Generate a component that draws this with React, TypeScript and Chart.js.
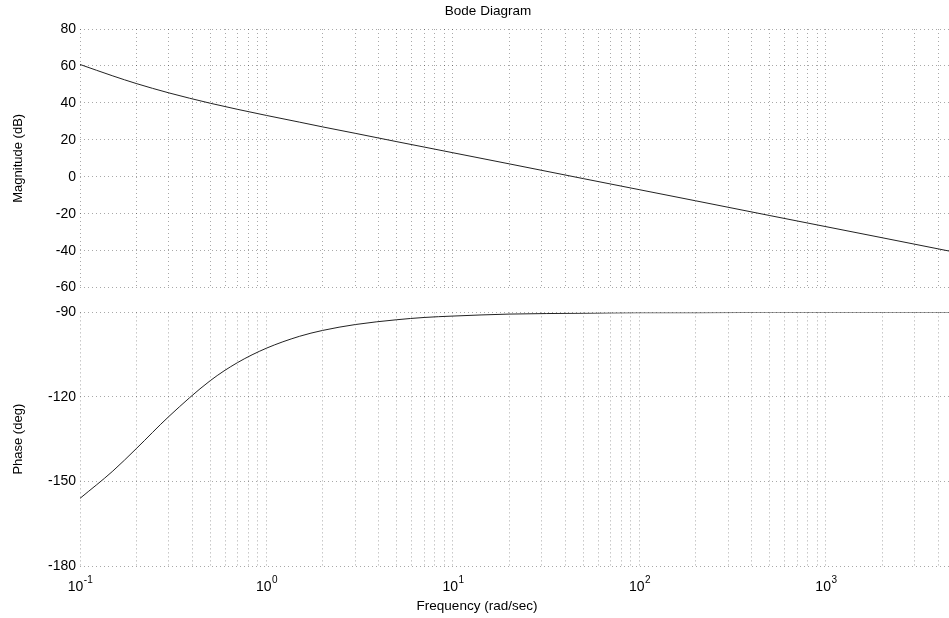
import React, { useEffect, useRef } from 'react';
import { Chart, registerables } from 'chart.js';

Chart.register(...registerables);

// ---- data ----
const freqs = [0.1, 0.15, 0.2, 0.3, 0.5, 0.7, 1, 1.5, 2, 3, 5, 7, 10, 20, 50, 100, 200, 500, 1000, 2000, 4570];
const magnitudeDb = [60.8, 54.6, 50.5, 45.4, 39.8, 36.5, 33.2, 29.6, 27.0, 23.5, 19.0, 16.1, 13.0, 7.0, -1.0, -7.0, -13.0, -21.0, -27.0, -33.0, -40.2];
const phaseDeg = [-156.0, -146.3, -138.4, -126.9, -114.2, -107.8, -102.7, -98.5, -96.4, -94.3, -92.6, -91.8, -91.3, -90.6, -90.3, -90.1, -90.1, -90.0, -90.0, -90.0, -90.0];

const xMajorTicks = [0.1, 1, 10, 100, 1000];
const xMajorExponents = ['-1', '0', '1', '2', '3'];
const minorMultipliers = [1, 2, 3, 4, 5, 6, 7, 8, 9];
const X_MIN = 0.1;
const X_MAX = 4570;

const magRange = { min: -60, max: 80, step: 20 };
const phaseRange = { min: -180, max: -90, step: 30 };

const titleText = 'Bode Diagram';
const magLabel = 'Magnitude (dB)';
const phaseLabel = 'Phase (deg)';
const freqLabel = 'Frequency (rad/sec)';

const FONT = '"Liberation Sans", Arial, Helvetica, sans-serif';
const GRID_COLOR = 'rgba(0,0,0,0.34)';
const GRID_DASH = [1, 3];

const gridValues = xMajorTicks
  .flatMap((d) => minorMultipliers.map((m) => +(d * m).toPrecision(3)))
  .filter((v) => v <= X_MAX);

function xScaleOpts() {
  return {
    type: 'logarithmic' as const,
    min: X_MIN,
    max: X_MAX,
    afterBuildTicks: (scale: any) => {
      scale.ticks = gridValues.map((v) => ({ value: v, major: xMajorTicks.includes(v) }));
    },
    ticks: { display: false },
    grid: { color: GRID_COLOR, lineWidth: 1, drawTicks: false },
    border: { display: false, dash: GRID_DASH },
  };
}

function yScaleOpts(r: { min: number; max: number; step: number }) {
  return {
    type: 'linear' as const,
    min: r.min,
    max: r.max,
    afterFit: (scale: any) => {
      scale.width = 80;
    },
    ticks: {
      stepSize: r.step,
      color: '#000',
      padding: 4,
      font: { family: FONT, size: 14 },
    },
    grid: { color: GRID_COLOR, lineWidth: 1, drawTicks: false },
    border: { display: false, dash: GRID_DASH },
  };
}

function drawRotated(ctx: CanvasRenderingContext2D, text: string, x: number, y: number) {
  ctx.save();
  ctx.translate(x, y);
  ctx.rotate(-Math.PI / 2);
  ctx.textAlign = 'center';
  ctx.textBaseline = 'middle';
  ctx.fillText(text, 0, 0);
  ctx.restore();
}

function lineDataset(ys: number[]) {
  return {
    data: freqs.map((f, i) => ({ x: f, y: ys[i] })),
    borderColor: '#222',
    borderWidth: 1,
    pointRadius: 0,
    cubicInterpolationMode: 'monotone' as const,
    fill: false,
  };
}

export default function App() {
  const topRef = useRef<HTMLCanvasElement>(null);
  const botRef = useRef<HTMLCanvasElement>(null);

  useEffect(() => {
    const topPlugin = {
      id: 'topText',
      afterDraw: (chart: any) => {
        const ctx = chart.ctx as CanvasRenderingContext2D;
        const area = chart.chartArea;
        ctx.save();
        ctx.fillStyle = '#000';
        ctx.font = `13.5px ${FONT}`;
        ctx.textAlign = 'center';
        ctx.textBaseline = 'middle';
        ctx.fillText(titleText, 488, 11);
        ctx.font = `13px ${FONT}`;
        drawRotated(ctx, magLabel, 18, (area.top + area.bottom) / 2);
        ctx.restore();
      },
    };
    const botPlugin = {
      id: 'botText',
      afterDraw: (chart: any) => {
        const ctx = chart.ctx as CanvasRenderingContext2D;
        const area = chart.chartArea;
        const xs = chart.scales.x;
        ctx.save();
        ctx.fillStyle = '#000';
        ctx.font = `13px ${FONT}`;
        drawRotated(ctx, phaseLabel, 18, (area.top + area.bottom) / 2);
        // x tick labels 10^n
        xMajorTicks.forEach((v, i) => {
          const px = xs.getPixelForValue(v);
          ctx.font = `14px ${FONT}`;
          const wBase = ctx.measureText('10').width;
          ctx.font = `10px ${FONT}`;
          const wExp = ctx.measureText(xMajorExponents[i]).width;
          const left = px - (wBase + wExp) / 2;
          ctx.textAlign = 'left';
          ctx.textBaseline = 'middle';
          ctx.font = `14px ${FONT}`;
          ctx.fillText('10', left, area.bottom + 21);
          ctx.font = `10px ${FONT}`;
          ctx.fillText(xMajorExponents[i], left + wBase + 0.5, area.bottom + 14);
        });
        ctx.font = `13.5px ${FONT}`;
        ctx.textAlign = 'center';
        ctx.textBaseline = 'middle';
        ctx.fillText(freqLabel, 477, area.bottom + 40);
        ctx.restore();
      },
    };

    const top = new Chart(topRef.current!, {
      type: 'line',
      data: { datasets: [lineDataset(magnitudeDb)] },
      options: {
        animation: false,
        responsive: false,
        devicePixelRatio: 1,
        layout: { padding: { top: 29, bottom: 11, left: 0, right: 0 } },
        plugins: { legend: { display: false }, tooltip: { enabled: false }, title: { display: false } },
        scales: {
          x: { ...xScaleOpts(), afterFit: (s: any) => { s.height = 0; } },
          y: yScaleOpts(magRange),
        },
      },
      plugins: [topPlugin],
    } as any);

    const bot = new Chart(botRef.current!, {
      type: 'line',
      data: { datasets: [lineDataset(phaseDeg)] },
      options: {
        animation: false,
        responsive: false,
        devicePixelRatio: 1,
        layout: { padding: { top: 11, bottom: 0, left: 0, right: 0 } },
        plugins: { legend: { display: false }, tooltip: { enabled: false }, title: { display: false } },
        scales: {
          x: { ...xScaleOpts(), afterFit: (s: any) => { s.height = 52; } },
          y: yScaleOpts(phaseRange),
        },
      },
      plugins: [botPlugin],
    } as any);

    return () => {
      top.destroy();
      bot.destroy();
    };
  }, []);

  return (
    <div style={{ position: 'absolute', left: 0, top: 0, width: 949, height: 618, background: '#fff' }}>
      <canvas ref={topRef} width={949} height={300} style={{ position: 'absolute', left: 0, top: 0 }} />
      <canvas ref={botRef} width={949} height={318} style={{ position: 'absolute', left: 0, top: 300 }} />
    </div>
  );
}
